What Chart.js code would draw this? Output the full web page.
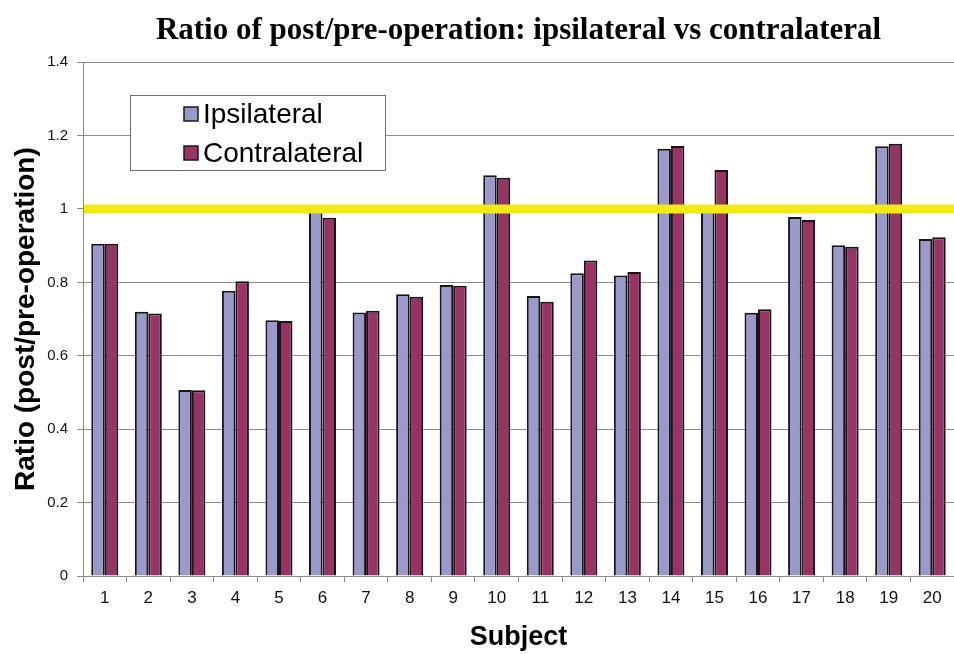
<!DOCTYPE html>
<html>
<head>
<meta charset="utf-8">
<script src="https://cdn.jsdelivr.net/npm/chart.js@4/dist/chart.umd.min.js"></script>
<style>
  html, body { margin: 0; padding: 0; background: #fff; }
  #wrap { width: 954px; height: 654px; }
</style>
</head>
<body>
<div id="wrap"><canvas id="ratioChart"></canvas></div>
<script>
const subjects = ['1','2','3','4','5','6','7','8','9','10','11','12','13','14','15','16','17','18','19','20'];
const ipsilateral = [0.905, 0.72, 0.507, 0.777, 0.697, 0.995, 0.718, 0.768, 0.793, 1.092, 0.763, 0.825, 0.819, 1.164, 0.995, 0.717, 0.978, 0.901, 1.171, 0.918];
const contralateral = [0.905, 0.715, 0.506, 0.803, 0.695, 0.976, 0.723, 0.761, 0.791, 1.085, 0.747, 0.86, 0.828, 1.172, 1.106, 0.727, 0.97, 0.897, 1.178, 0.923];
const yTicks = [0, 0.2, 0.4, 0.6, 0.8, 1, 1.2, 1.4];
const refValue = 1;

// yellow reference line at ratio = 1, drawn over the bars
const refLine = {
    id: 'refLine',
    afterDatasetsDraw(chart) {
        const { ctx, chartArea, scales } = chart;
        const y = scales.y.getPixelForValue(refValue);
        ctx.save();
        ctx.strokeStyle = '#f2ea17';
        ctx.lineWidth = 9;
        ctx.beginPath();
        ctx.moveTo(chartArea.left + 1, y);
        ctx.lineTo(chartArea.right, y);
        ctx.stroke();
        ctx.restore();
    }
};

// boxed legend sitting inside the plot
const boxLegend = {
    id: 'boxLegend',
    afterDraw(chart) {
        const ctx = chart.ctx;
        ctx.save();
        ctx.fillStyle = '#fff';
        ctx.fillRect(130, 95, 255, 75);
        ctx.strokeStyle = '#6e6e6e';
        ctx.lineWidth = 1;
        ctx.strokeRect(130.5, 95.5, 255, 75);
        ctx.font = '28px "Liberation Sans", Arial, sans-serif';
        ctx.textBaseline = 'middle';
        chart.data.datasets.forEach((ds, i) => {
            const cy = 114 + i * 39;
            ctx.fillStyle = ds.backgroundColor;
            ctx.fillRect(184, cy - 7, 14, 14);
            ctx.strokeStyle = '#1a1a1a';
            ctx.lineWidth = 1.5;
            ctx.strokeRect(184, cy - 7, 14, 14);
            ctx.fillStyle = '#000';
            ctx.fillText(ds.label, 203, cy + 1);
        });
        ctx.restore();
    }
};

const ctx = document.getElementById('ratioChart').getContext('2d');

const ratioChart = new Chart(ctx, {
    type: 'bar',
    data: {
        labels: subjects,
        datasets: [
            {
                label: 'Ipsilateral',
                data: ipsilateral,
                backgroundColor: '#9999cc',
                borderColor: '#161616',
                borderWidth: 2,
                categoryPercentage: 0.62,
                barPercentage: 1
            },
            {
                label: 'Contralateral',
                data: contralateral,
                backgroundColor: '#993366',
                borderColor: '#161616',
                borderWidth: 2,
                categoryPercentage: 0.62,
                barPercentage: 1
            }
        ]
    },
    options: {
        responsive: true,
        maintainAspectRatio: false,
        animation: false,
        layout: { padding: { left: 0, right: 0, top: 0, bottom: 0 } },
        scales: {
            x: {
                offset: true,
                grid: {
                    offset: true,
                    drawOnChartArea: false,
                    tickLength: 6,
                    color: '#8c8c8c'
                },
                border: { color: '#8c8c8c', width: 1 },
                ticks: {
                    color: '#111',
                    padding: 6,
                    maxRotation: 0,
                    font: { family: '"Liberation Sans", Arial, sans-serif', size: 17 }
                },
                title: {
                    display: true,
                    text: 'Subject',
                    color: '#000',
                    padding: { top: 14, bottom: 0 },
                    font: { family: '"Liberation Sans", Arial, sans-serif', size: 27, weight: 'bold' }
                },
                afterFit(scale) { scale.height = 78; }
            },
            y: {
                min: 0,
                max: 1.4,
                afterBuildTicks(scale) {
                    scale.ticks = yTicks.map(v => ({ value: v }));
                },
                grid: {
                    color: '#8c8c8c',
                    tickLength: 6,
                    lineWidth: 1
                },
                border: { color: '#8c8c8c', width: 1 },
                ticks: {
                    color: '#111',
                    padding: 9,
                    callback: v => String(v),
                    font: { family: '"Liberation Sans", Arial, sans-serif', size: 15 }
                },
                title: {
                    display: true,
                    text: 'Ratio (post/pre-operation)',
                    color: '#000',
                    padding: { top: 9, bottom: 0 },
                    font: { family: '"Liberation Sans", Arial, sans-serif', size: 28, weight: 'bold' }
                },
                afterFit(scale) { scale.width = 83; }
            }
        },
        plugins: {
            legend: { display: false },
            tooltip: { enabled: false },
            title: {
                display: true,
                fullSize: false,
                text: 'Ratio of post/pre-operation: ipsilateral vs contralateral',
                color: '#000',
                padding: { top: 12, bottom: 13 },
                font: { family: '"Liberation Serif", "Times New Roman", serif', size: 31, weight: 'bold' }
            }
        }
    },
    plugins: [refLine, boxLegend]
});
</script>
</body>
</html>
